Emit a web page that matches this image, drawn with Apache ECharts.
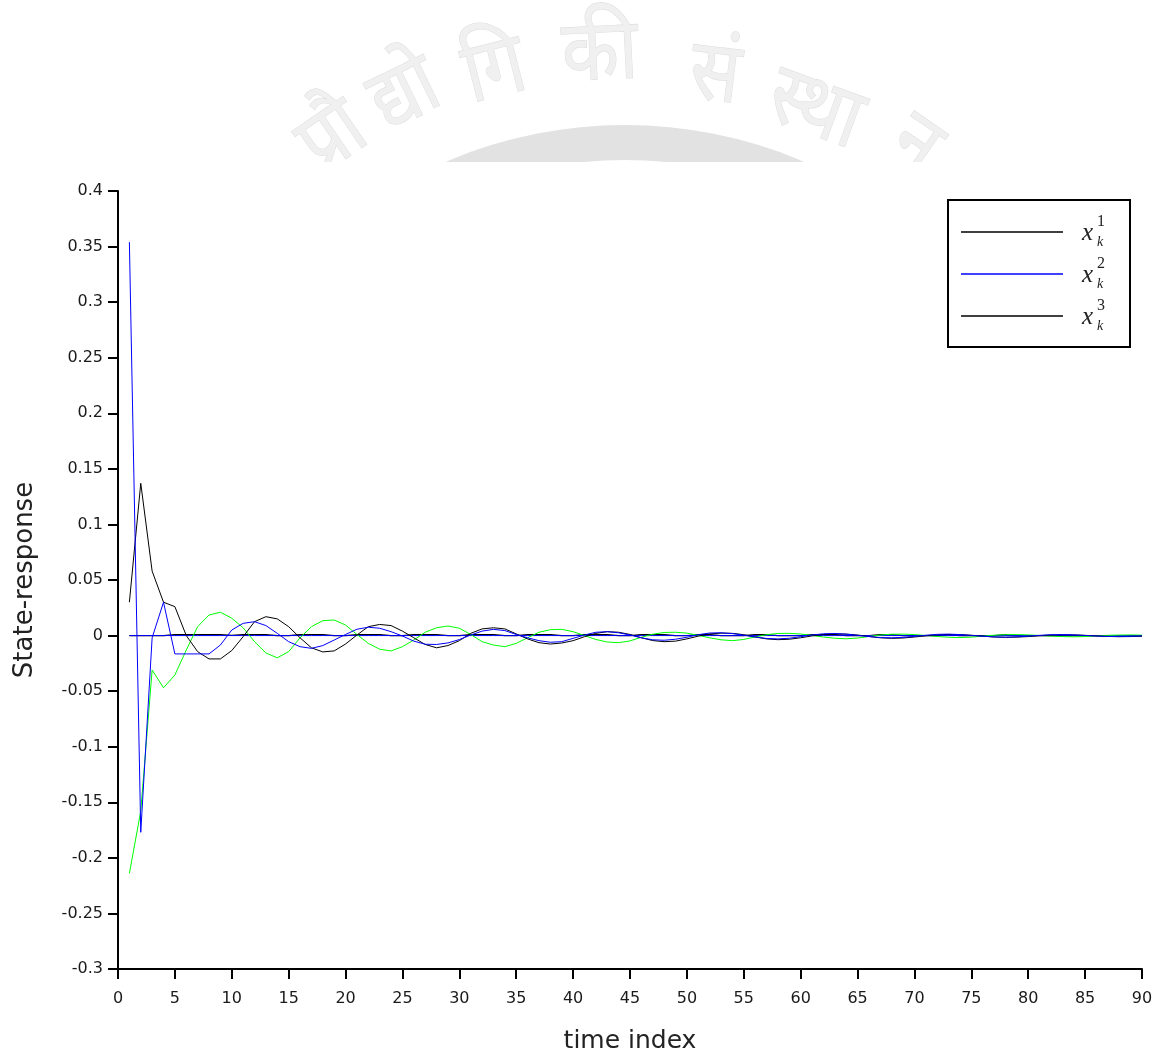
<!DOCTYPE html>
<html>
<head>
<meta charset="utf-8">
<script src="https://cdn.jsdelivr.net/npm/echarts@6/dist/echarts.min.js"></script>
<style>html,body{margin:0;padding:0;background:#fff;}#c{width:1159px;height:1052px;}</style>
</head>
<body>
<div id="c"></div>
<script>
// time index 1..90
var timeIndex = [];
for (var i = 1; i <= 90; i++) timeIndex.push(i);

var x1 = [0.030,0.137,0.058,0.030,0.026,0.000,-0.0145,-0.021,-0.021,-0.0135,
-0.001,0.0125,0.017,0.015,0.008,-0.002,-0.011,-0.0147,-0.0138,-0.0076,
0.0005,0.008,0.010,0.009,0.004,-0.002,-0.008,-0.011,-0.009,-0.0046,
0.002,0.006,0.007,0.006,0.0015,-0.003,-0.0064,-0.0076,-0.0067,-0.0046,
-0.001,0.002,0.0035,0.003,0.001,-0.002,-0.0045,-0.0055,-0.005,-0.003,
-0.0005,0.0015,0.0022,0.002,0.0008,-0.0012,-0.003,-0.0037,-0.0033,-0.002,
-0.0003,0.001,0.0015,0.0013,0.0005,-0.0008,-0.002,-0.0025,-0.0022,-0.0013,
-0.0002,0.0007,0.001,0.0009,0.0003,-0.0005,-0.0013,-0.0016,-0.0014,-0.0009,
-0.0001,0.0005,0.0007,0.0006,0.0002,-0.0003,-0.0008,-0.001,-0.0009,-0.0006];

var x2 = [0.354,-0.177,-0.002,0.030,-0.0165,-0.0165,-0.0165,-0.0165,-0.0085,0.005,
0.011,0.0125,0.009,0.002,-0.0055,-0.010,-0.0115,-0.009,-0.004,0.001,
0.0057,0.0075,0.0066,0.0035,-0.0004,-0.005,-0.0078,-0.008,-0.0066,-0.0036,
0.0005,0.004,0.0056,0.0045,0.001,-0.002,-0.0046,-0.006,-0.0055,-0.0025,
0.0005,0.003,0.0035,0.0025,0.0005,-0.002,-0.0038,-0.0042,-0.0033,-0.0015,
0.0008,0.0023,0.0025,0.0018,0.0003,-0.0013,-0.0026,-0.003,-0.0024,-0.001,
0.0005,0.0016,0.0019,0.0013,0.0002,-0.0009,-0.0018,-0.002,-0.0016,-0.0007,
0.0003,0.0011,0.0013,0.0009,0.0001,-0.0006,-0.0012,-0.0014,-0.0011,-0.0005,
0.0002,0.0008,0.0009,0.0006,0.0001,-0.0004,-0.0008,-0.0009,-0.0007,-0.0003];

var x3 = [-0.214,-0.158,-0.031,-0.047,-0.0355,-0.013,0.008,0.0185,0.021,0.0156,
0.007,-0.0055,-0.0157,-0.020,-0.0145,-0.002,0.008,0.0134,0.014,0.0095,
0.001,-0.007,-0.0123,-0.0138,-0.010,-0.004,0.003,0.007,0.0086,0.0066,
0.001,-0.0055,-0.0085,-0.010,-0.007,-0.002,0.003,0.0053,0.0056,0.0035,
0.000,-0.0035,-0.0058,-0.0064,-0.0048,-0.0015,0.0012,0.0028,0.003,0.0022,
0.0002,-0.002,-0.0038,-0.0046,-0.0035,-0.0012,0.0008,0.0019,0.002,0.0014,
0.0001,-0.0013,-0.0024,-0.0029,-0.0022,-0.0008,0.0005,0.0012,0.0013,0.0009,
0.0001,-0.0008,-0.0015,-0.0018,-0.0014,-0.0005,0.0003,0.0008,0.0009,0.0006,
0.0001,-0.0005,-0.0009,-0.0011,-0.0009,-0.0003,0.0002,0.0005,0.0006,0.0004];

// near-zero states
var x4 = [0,0,0,0,0.0009,0.0009,0.0009,0.0009,0.0009,0.0003,
0.0009,0.0009,0.0009,0,0,0.0009,0.0009,0.0009,0,0,
0.0009,0.0009,0.0009,0,0,0.0009,0.0009,0.0009,0,0,
0.0009,0.0009,0.0009,0,0,0.0009,0.0009,0.0009,0,0,
0.0009,0.0009,0.0009,0,0,0.0009,0.0009,0.0009,0,0,
0.0009,0.0009,0,0,0,0.0009,0.0009,0,0,0,
0.0009,0.0009,0.0009,0,0,0,0.0009,0.0009,0,0,
0,0,0.0009,0,0,0,0,0.0009,0,0,
0,0,0,0,0,0,0,0,0,0];
var x5 = [];
for (var j = 0; j < 90; j++) x5.push(0);

var xTicks = {min: 0, max: 90, step: 5};
var yTicks = {min: -0.3, max: 0.4, step: 0.05};
var legendLabels = ['1', '2', '3'];

function pairs(arr) { return arr.map(function (v, k) { return [timeIndex[k], v]; }); }

var chart = echarts.init(document.getElementById('c'), null, {renderer: 'canvas'});

var tickFont = {fontFamily: 'DejaVu Sans', fontSize: 16, color: '#1a1a1a'};

var graphics = [
  {type: 'ring', z: 0, shape: {cx: 625, cy: 580, r: 455, r0: 420}, style: {fill: '#e2e2e2'}}
];
var wm = [
  ['प्रौ', 333, 138, 0.6], ['द्यो', 405, 95, 0.45], ['गि', 495, 72, 0.25], ['की', 600, 55, 0.05],
  ['सं', 715, 76, -0.12], ['स्था', 815, 110, -0.35], ['न', 915, 146, -0.6]
];
wm.forEach(function (w) {
  graphics.push({type: 'text', z: 0, x: w[1], y: w[2], rotation: w[3], scaleY: 1.15,
    style: {text: w[0], fontSize: 74, fontFamily: 'Noto Sans, sans-serif', fill: '#f0f0f0',
      stroke: '#dedede', lineWidth: 1, textAlign: 'center', textVerticalAlign: 'middle'}});
});
graphics.push({type: 'rect', z: 1, shape: {x: 0, y: 162, width: 1159, height: 890}, style: {fill: '#fff'}});

// legend box
graphics.push({type: 'rect', z: 10, shape: {x: 948, y: 200, width: 182, height: 147},
  style: {fill: '#fff', stroke: '#000', lineWidth: 2}});
var legColors = ['#000000', '#0000ff', '#000000'];
var legY = [232, 274, 316];
for (var m = 0; m < 3; m++) {
  graphics.push({type: 'line', z: 11, shape: {x1: 961, y1: legY[m], x2: 1063, y2: legY[m]},
    style: {stroke: legColors[m], lineWidth: 1.5}});
  graphics.push({type: 'text', z: 11, x: 1082, y: legY[m] + 1,
    style: {text: 'x', fontSize: 25, fontStyle: 'italic', fontFamily: 'Liberation Serif', fill: '#222',
      textVerticalAlign: 'middle'}});
  graphics.push({type: 'text', z: 11, x: 1097, y: legY[m] - 10,
    style: {text: legendLabels[m], fontSize: 16, fontFamily: 'Liberation Serif', fill: '#222',
      textVerticalAlign: 'middle'}});
  graphics.push({type: 'text', z: 11, x: 1097, y: legY[m] + 10,
    style: {text: 'k', fontSize: 14, fontStyle: 'italic', fontFamily: 'Liberation Serif', fill: '#222',
      textVerticalAlign: 'middle'}});
}

var option = {
  animation: false,
  backgroundColor: '#fff',
  grid: {left: 118, right: 17, top: 191, bottom: 83, containLabel: false, outerBoundsMode: 'none'},
  xAxis: {
    type: 'value', min: xTicks.min, max: xTicks.max, interval: xTicks.step, z: 5,
    name: 'time index', nameLocation: 'middle', nameGap: 60,
    nameTextStyle: {fontFamily: 'DejaVu Sans', fontSize: 25, color: '#222'},
    axisLine: {onZero: false, lineStyle: {color: '#000', width: 2}},
    axisTick: {show: true, length: 10, lineStyle: {color: '#000', width: 2}},
    axisLabel: Object.assign({margin: 22}, tickFont),
    splitLine: {show: false}
  },
  yAxis: {
    type: 'value', min: yTicks.min, max: yTicks.max, interval: yTicks.step, z: 5,
    name: 'State-response', nameLocation: 'middle', nameGap: 80,
    nameTextStyle: {fontFamily: 'DejaVu Sans', fontSize: 26, color: '#222'},
    axisLine: {show: true, onZero: false, lineStyle: {color: '#000', width: 2}},
    axisTick: {show: true, length: 10, lineStyle: {color: '#000', width: 2}},
    axisLabel: Object.assign({margin: 15, formatter: function (v) { return String(+v.toFixed(2)); }}, tickFont),
    splitLine: {show: false}
  },
  series: [
    {name: 'x4', type: 'line', data: pairs(x4), showSymbol: false, symbol: 'none', z: 2,
      lineStyle: {color: '#000', width: 1.2}},
    {name: 'x5', type: 'line', data: pairs(x5), showSymbol: false, symbol: 'none', z: 3,
      lineStyle: {color: '#0000ff', width: 1}},
    {name: 'x3', type: 'line', data: pairs(x3), showSymbol: false, symbol: 'none', z: 4,
      lineStyle: {color: '#00ff00', width: 1}},
    {name: 'x1', type: 'line', data: pairs(x1), showSymbol: false, symbol: 'none', z: 5,
      lineStyle: {color: '#000000', width: 1}},
    {name: 'x2', type: 'line', data: pairs(x2), showSymbol: false, symbol: 'none', z: 6,
      lineStyle: {color: '#0000ff', width: 1}}
  ],
  graphic: {elements: graphics}
};
chart.setOption(option);
</script>
</body>
</html>
